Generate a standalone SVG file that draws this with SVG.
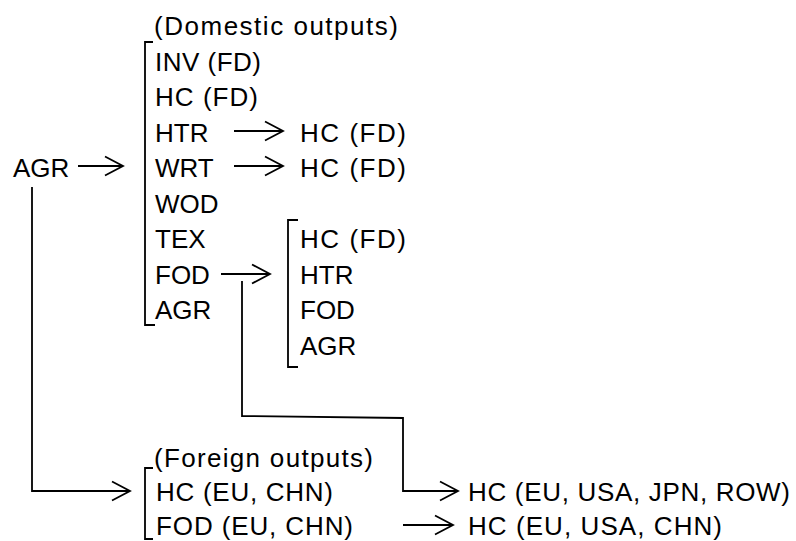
<svg xmlns="http://www.w3.org/2000/svg" width="796" height="541" viewBox="0 0 796 541">
<style>
text{font-family:"Liberation Sans",Arial,sans-serif;font-size:26px;fill:#000}
.ln{fill:none;stroke:#000;stroke-width:1.8}
</style>
<defs>
<marker id="ah" markerUnits="userSpaceOnUse" markerWidth="24" markerHeight="24" viewBox="-20 -12 24 24" refX="0" refY="0" orient="auto">
<path d="M-18,-9.5 L0,0 L-18,9.5" fill="none" stroke="#000" stroke-width="1.8"/>
</marker>
</defs>
<rect width="796" height="541" fill="#fff"/>
<g id="connectors">
<line class="ln" x1="78" y1="166" x2="123" y2="166" marker-end="url(#ah)"/>
<path class="ln" d="M32,187 V491 H130" marker-end="url(#ah)"/>
<path class="ln" d="M153,42 H145 V325 H155"/>
<line class="ln" x1="234" y1="131" x2="283" y2="131" marker-end="url(#ah)"/>
<line class="ln" x1="234" y1="166" x2="283" y2="166" marker-end="url(#ah)"/>
<line class="ln" x1="221" y1="274" x2="270" y2="274" marker-end="url(#ah)"/>
<path class="ln" d="M242,281 V416 L403,418 V491 H458" marker-end="url(#ah)"/>
<path class="ln" d="M298,220 H288 V367 H298"/>
<path class="ln" d="M153,468 H145 V539 H153"/>
<line class="ln" x1="403" y1="525" x2="453" y2="525" marker-end="url(#ah)"/>
</g>
<g id="agr-source"><text x="13" y="177">AGR</text></g>
<g id="domestic">
<text x="154" y="35" textLength="244" lengthAdjust="spacing">(Domestic outputs)</text>
<text x="155" y="70.5" textLength="106" lengthAdjust="spacing">INV (FD)</text>
<text x="155" y="106" textLength="103" lengthAdjust="spacing">HC (FD)</text>
<text x="155" y="141.5">HTR</text>
<text x="155" y="177">WRT</text>
<text x="155" y="212.5">WOD</text>
<text x="155" y="248">TEX</text>
<text x="155" y="283.5">FOD</text>
<text x="155" y="319">AGR</text>
</g>
<g id="htr-target"><text x="300" y="141.5" textLength="106" lengthAdjust="spacing">HC (FD)</text></g>
<g id="wrt-target"><text x="300" y="177" textLength="106" lengthAdjust="spacing">HC (FD)</text></g>
<g id="fod-targets">
<text x="300" y="248" textLength="106" lengthAdjust="spacing">HC (FD)</text>
<text x="300" y="283.5">HTR</text>
<text x="300" y="319">FOD</text>
<text x="300" y="354.5">AGR</text>
</g>
<g id="foreign">
<text x="154" y="467" textLength="219" lengthAdjust="spacing">(Foreign outputs)</text>
<text x="156" y="501" textLength="177" lengthAdjust="spacing">HC (EU, CHN)</text>
<text x="156" y="535" textLength="197" lengthAdjust="spacing">FOD (EU, CHN)</text>
</g>
<g id="foreign-targets">
<text x="468" y="501" textLength="322" lengthAdjust="spacing">HC (EU, USA, JPN, ROW)</text>
<text x="468" y="535" textLength="254" lengthAdjust="spacing">HC (EU, USA, CHN)</text>
</g>
</svg>
